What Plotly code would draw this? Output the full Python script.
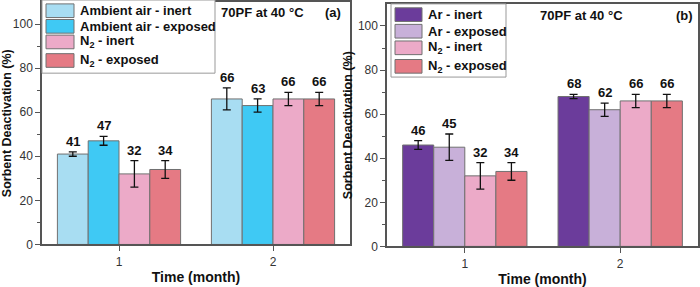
import plotly.graph_objects as go

months = [1, 2]
tick_labels = ["1", "2"]

# Panel (a)
a_names = ["Ambient air - inert", "Ambient air - exposed", "N<sub>2</sub> - inert", "N<sub>2</sub> - exposed"]
a_values = [[41, 66], [47, 63], [32, 66], [34, 66]]
a_errors = [[1, 5], [2, 3], [6, 3], [4, 3]]
a_colors = ["#A8DDF2", "#3FC9F4", "#ECAAC8", "#E57A84"]

# Panel (b)
b_names = ["Ar - inert", "Ar - exposed", "N<sub>2</sub> - inert", "N<sub>2</sub> - exposed"]
b_values = [[46, 68], [45, 62], [32, 66], [34, 66]]
b_errors = [[2, 1], [6, 3], [6, 3], [4, 3]]
b_colors = ["#6B3C9B", "#C8B0D9", "#ECAAC8", "#E57A84"]

FONT = "Liberation Sans, Arial, sans-serif"
fig = go.Figure()

bar_w = 0.2
panels = [
    (a_names, a_values, a_errors, a_colors, "x", "y"),
    (b_names, b_values, b_errors, b_colors, "x2", "y2"),
]
annotations = []
for names, vals, errs, cols, xa, ya in panels:
    n = len(names)
    for i in range(n):
        off = (i - (n - 1) / 2) * bar_w
        fig.add_trace(go.Bar(
            x=months, y=vals[i], name=names[i], xaxis=xa, yaxis=ya,
            marker=dict(color=cols[i], line=dict(color="#707070", width=1)),
            error_y=dict(type="data", array=errs[i], color="#111111", thickness=1.3, width=4),
            showlegend=False, offsetgroup=str(i),
        ))
        for m, v, e in zip(months, vals[i], errs[i]):
            annotations.append(dict(
                x=m + off, y=v + e, xref=xa, yref=ya, text=f"<b>{v}</b>",
                showarrow=False, yanchor="bottom", yshift=1,
                font=dict(family=FONT, size=13, color="#111111")))

axis_common = dict(
    showline=True, linecolor="#555555", linewidth=1.5, mirror=True,
    ticks="outside", ticklen=5, tickwidth=1.2, tickcolor="#555555",
    tickfont=dict(family=FONT, size=12, color="#333333"), showgrid=False, zeroline=False,
)

fig.update_layout(
    width=700, height=287, margin=dict(l=0, r=0, t=0, b=0),
    paper_bgcolor="white", plot_bgcolor="white",
    barmode="group", bargap=0.2, bargroupgap=0,
    xaxis=dict(domain=[0.06, 0.5], range=[0.5, 2.5], tickvals=months, ticktext=tick_labels,
               title=dict(text="<b>Time (month)</b>", font=dict(family=FONT, size=14, color="#111111"), standoff=5),
               anchor="y", **axis_common),
    yaxis=dict(domain=[0.127, 0.993], range=[0, 110], tickvals=[0, 20, 40, 60, 80, 100],
               minor=dict(tickvals=[10, 30, 50, 70, 90], ticks="outside", ticklen=3, tickcolor="#555555"),
               title=dict(text="<b>Sorbent Deactivation (%)</b>", font=dict(family=FONT, size=12.5, color="#111111"), standoff=3),
               anchor="x", **axis_common),
    xaxis2=dict(domain=[0.553, 0.997], range=[0.5, 2.5], tickvals=months, ticktext=tick_labels,
                title=dict(text="<b>Time (month)</b>", font=dict(family=FONT, size=14, color="#111111"), standoff=5),
                anchor="y2", **axis_common),
    yaxis2=dict(domain=[0.12, 0.986], range=[0, 110], tickvals=[0, 20, 40, 60, 80, 100],
                minor=dict(tickvals=[10, 30, 50, 70, 90], ticks="outside", ticklen=3, tickcolor="#555555"),
                title=dict(text="<b>Sorbent Deactivation (%)</b>", font=dict(family=FONT, size=12.5, color="#111111"), standoff=3),
                anchor="x2", **axis_common),
)

W, H = 700.0, 287.0
def px(x):
    return x / W
def py(y):
    return 1 - y / H

shapes = []
# Custom legends (pixel layout)
legends = [
    dict(box=(42, 0, 215, 75), sw_x=(46, 74), text_x=78, rows=[11, 27, 43, 62], names=a_names, colors=a_colors),
    dict(box=(391, 4, 506, 79), sw_x=(395, 422), text_x=426, rows=[15, 32, 49, 68], names=b_names, colors=b_colors),
]
for lg in legends:
    x0, y0, x1, y1 = lg["box"]
    shapes.append(dict(type="rect", xref="paper", yref="paper", x0=px(x0), x1=px(x1), y0=py(y1), y1=py(y0),
                       line=dict(color="#999999", width=1), fillcolor="white", layer="above"))
    for yc, nm, c in zip(lg["rows"], lg["names"], lg["colors"]):
        shapes.append(dict(type="rect", xref="paper", yref="paper", x0=px(lg["sw_x"][0]), x1=px(lg["sw_x"][1]),
                           y0=py(yc + 7), y1=py(yc - 7), line=dict(color="#707070", width=1), fillcolor=c, layer="above"))
        annotations.append(dict(xref="paper", yref="paper", x=px(lg["text_x"]), y=py(yc), text=f"<b>{nm}</b>",
                                showarrow=False, xanchor="left", yanchor="middle",
                                font=dict(family=FONT, size=13, color="#111111")))

# Panel titles and labels
for txt, xc, yc in [("<b>70PF at 40 °C</b>", 262, 13), ("<b>(a)</b>", 333, 13),
                    ("<b>70PF at 40 °C</b>", 581, 16), ("<b>(b)</b>", 684, 16)]:
    annotations.append(dict(xref="paper", yref="paper", x=px(xc), y=py(yc), text=txt, showarrow=False,
                            xanchor="center", yanchor="middle", font=dict(family=FONT, size=13, color="#111111")))

fig.update_layout(shapes=shapes, annotations=annotations)
fig.write_html("out.html")
